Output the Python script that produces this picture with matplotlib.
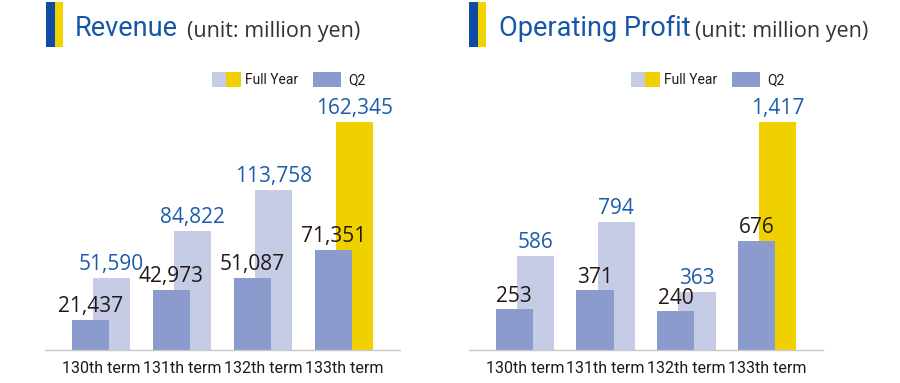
import matplotlib
matplotlib.use("Agg")
import matplotlib.pyplot as plt
from matplotlib.patches import Rectangle
import numpy as np

# -----------------------------
# DATA
# -----------------------------
terms = ["130th term", "131th term", "132th term", "133th term"]
revenue_q2 = [21437, 42973, 51087, 71351]
revenue_full = [51590, 84822, 113758, 162345]
profit_q2 = [253, 371, 240, 676]
profit_full = [586, 794, 363, 1417]

# -----------------------------
# STYLE
# -----------------------------
W, H = 900, 383
C_Q2 = "#8b9bcd"
C_FULL = "#c6cbe6"
C_YELLOW = "#efd100"
C_BLUE = "#1d5bab"
C_TITLE = "#1656a8"
C_DARK = "#231815"
NARROW = ["Roboto", "DejaVu Sans"]
ROUND = ["Open Sans", "DejaVu Sans"]

fig = plt.figure(figsize=(W / 100, H / 100), dpi=100)


def px(x, y):
    # pixel (from top-left) -> figure fraction
    return x / W, 1 - y / H


def add_rect(x0, y0, x1, y1, color):
    fig.patches.append(Rectangle(px(x0, y1), (x1 - x0) / W, (y1 - y0) / H,
                                 transform=fig.transFigure, color=color,
                                 linewidth=0))


def header(x0, title, title_x, unit_x, leg_x):
    # title marker
    add_rect(x0, 2, x0 + 9, 47, "#0f4aa5")
    add_rect(x0 + 9, 2, x0 + 17, 47, "#f2d300")
    fig.text(*px(title_x, 36), title, fontsize=19.5, color=C_TITLE,
             family=NARROW, va="baseline", ha="left")
    fig.text(*px(unit_x, 37), "(unit: million yen)", fontsize=15.5, color="#333333",
             family=ROUND, va="baseline", ha="left")
    # legend
    add_rect(leg_x, 72, leg_x + 14, 87, C_FULL)
    add_rect(leg_x + 14, 72, leg_x + 29, 87, C_YELLOW)
    fig.text(*px(leg_x + 33, 80), "Full Year", fontsize=10, color=C_DARK,
             family=NARROW, va="center", ha="left")
    add_rect(leg_x + 101, 72, leg_x + 129, 87, C_Q2)
    fig.text(*px(leg_x + 136, 80), "Q2", fontsize=10, color=C_DARK,
             family=NARROW, va="center", ha="left")


def panel(x0, x1, q2, full, fmt):
    left, bottom = px(x0, 350)
    ax = fig.add_axes([left, bottom, (x1 - x0) / W, 228 / H])
    x = np.arange(len(q2))
    width = 0.46
    off = 0.13
    full_colors = [C_FULL] * (len(full) - 1) + [C_YELLOW]
    ax.bar(x + off, full, width, color=full_colors, zorder=1)
    ax.bar(x - off, q2, width, color=C_Q2, zorder=2)
    for xi, v in zip(x, full):
        ax.annotate(fmt(v), (xi + off, v), xytext=(0, 2), textcoords="offset points",
                    ha="center", va="bottom", fontsize=15, color=C_BLUE,
                    family=ROUND, zorder=5, annotation_clip=False)
    for xi, v in zip(x, q2):
        ax.annotate(fmt(v), (xi - off, v), xytext=(0, 2), textcoords="offset points",
                    ha="center", va="bottom", fontsize=15, color=C_DARK,
                    family=ROUND, zorder=5, annotation_clip=False)
    ax.set_xlim(-0.69, 3.69)
    ax.set_ylim(0, max(full))
    ax.set_xticks(x)
    ax.set_xticklabels(terms, fontsize=11.5, color=C_DARK, family=NARROW)
    ax.tick_params(axis="x", length=0, pad=8)
    ax.set_yticks([])
    for s in ["top", "left", "right"]:
        ax.spines[s].set_visible(False)
    ax.spines["bottom"].set_color("#c8c8c8")
    ax.spines["bottom"].set_linewidth(1)
    ax.patch.set_alpha(0)
    return ax


fmt = lambda v: f"{v:,}"

header(46, "Revenue", 75, 187, 212)
panel(45, 400, revenue_q2, revenue_full, fmt)

header(469, "Operating Profit", 499, 695, 631)
panel(469, 823, profit_q2, profit_full, fmt)

fig.savefig("out.png", dpi=100, facecolor="white")
